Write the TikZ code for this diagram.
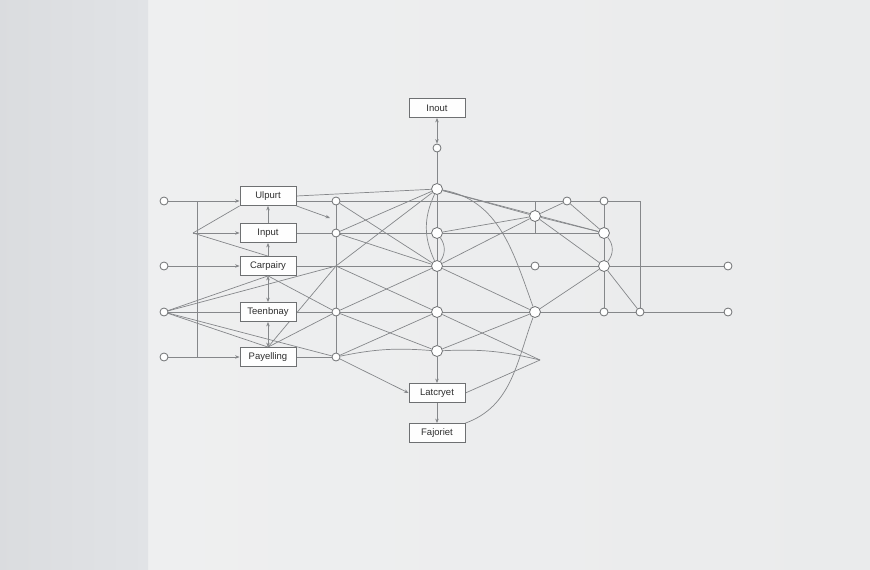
\documentclass[tikz,border=0pt]{standalone}
\usepackage{fontspec}
\setmainfont{Liberation Sans}
\usetikzlibrary{arrows.meta}
\definecolor{edgegray}{HTML}{85878A}
\definecolor{boxgray}{HTML}{6E7072}
\definecolor{inkgray}{HTML}{2E2E2E}
\definecolor{bgmain}{HTML}{EAEBEC}
\definecolor{bgstrip}{HTML}{E1E3E6}
\pgfdeclarelayer{back}
\pgfdeclarelayer{edges}
\pgfsetlayers{back,edges,main}
\tikzset{
  blk/.style={draw=boxgray, fill=white!94!bgmain, line width=0.8pt, minimum width=56pt,
    minimum height=19pt, inner sep=1pt, font=\fontsize{9.5}{10}\selectfont, text=inkgray},
  dot/.style={circle, draw=boxgray, fill=white, line width=0.8pt, minimum size=8pt, inner sep=0pt},
  bdot/.style={dot, minimum size=11pt},
  tip/.style={-{Stealth[length=4.5pt,width=3.5pt]}},
  twotip/.style={{Stealth[length=4.5pt,width=3.5pt]}-{Stealth[length=4.5pt,width=3.5pt]}}
}
\begin{document}
\begin{tikzpicture}[x=1pt,y=-1pt]
      \useasboundingbox (0,0) rectangle (870,570);
      \begin{pgfonlayer}{back}
        \shade[left color=bgmain!80!white, right color=bgmain] (148,0) rectangle (870,570);
        \shade[left color=bgstrip!97!black, right color=bgstrip] (0,0) rectangle (148,570);
      \end{pgfonlayer}
      \draw
        (437,108) node[blk] (bIn){Inout}
        (268,196) node[blk] (bU){Ulpurt}
        (268,233) node[blk] (bI){Input}
        (268,266) node[blk] (bC){Carpairy}
        (268,312) node[blk] (bT){Teenbnay}
        (268,357) node[blk] (bP){Payelling}
        (437,393) node[blk] (bL){Latcryet}
        (437,433) node[blk] (bF){Fajoriet};
      \draw
        (164,201) node[dot] (l1){}
        (164,266) node[dot] (l3){}
        (164,312) node[dot] (l4){}
        (164,357) node[dot] (l5){}
        (336,201) node[dot] (a1){}
        (336,233) node[dot] (a2){}
        (336,312) node[dot] (a4){}
        (336,357) node[dot] (a5){}
        (437,148) node[dot] (m0){}
        (437,189) node[bdot] (m1){}
        (437,233) node[bdot] (m2){}
        (437,266) node[bdot] (m3){}
        (437,312) node[bdot] (m4){}
        (437,351) node[bdot] (m5){}
        (535,216) node[bdot] (r1){}
        (535,266) node[dot] (r3){}
        (535,312) node[bdot] (r4){}
        (567,201) node[dot] (s1){}
        (604,201) node[dot] (t1){}
        (604,233) node[bdot] (t2){}
        (604,266) node[bdot] (t3){}
        (604,312) node[dot] (t4){}
        (640,312) node[dot] (u4){}
        (728,266) node[dot] (e3){}
        (728,312) node[dot] (e4){};
      \coordinate (j) at (193,233);
      \coordinate (k1) at (197,201);
      \coordinate (k5) at (197,357);
      \coordinate (w1) at (336,266);
      \coordinate (tipA) at (330,218);
      \coordinate (tipB) at (540,360);
      \coordinate (q1) at (640,201);
      \coordinate (q2) at (535,201);
      \coordinate (q3) at (535,233);
      \begin{pgfonlayer}{edges}
      \begin{scope}[draw=edgegray, line width=0.7pt]
        % left inputs
        \draw (l1) -- (k1);
        \draw[tip] (k1) -- (bU.west |- k1);
        \draw (k1) -- (k5);
        \draw (l5) -- (k5);
        \draw[tip] (k5) -- (bP.west);
        \draw[tip] (l3) -- (bC.west);
        \draw[tip] (j) -- (bI.west);
        \draw (j) -- (bU.south west);
        \draw (j) -- (bC.north);
        \draw (l4) -- (bT.west);
        \draw (l4) -- (bC.south);
        \draw (l4) -- (w1);
        \draw (l4) -- (bP.north);
        \draw (l4) -- (a5);
        \draw (bP.north) -- (w1);
        \draw (bC.south) -- (a4);
        \draw (bP.north) -- (a4);
        % left column
        \draw[tip] (bI) -- (bU);
        \draw[tip] (bC) -- (bI);
        \draw[twotip] (bT) -- (bC);
        \draw[twotip] (bP) -- (bT);
        \draw[tip] (bU.south east) -- (tipA);
        \draw (bU.east) -- (m1);
        \draw (bU.east |- a1) -- (a1);
        \draw (bI) -- (a2);
        \draw (bC) -- (w1);
        \draw (bT) -- (a4);
        \draw (bP) -- (a5);
        \draw (a1) -- (a5);
        % middle
        \draw[twotip] (bIn) -- (m0);
        \draw (m0) -- (m1);
        \draw (m1) -- (m5);
        \draw (m1) to[bend right=25] (m3);
        \draw (m2) to[bend left=35] (m3);
        \draw (a1) -- (q1);
        \draw (a2) -- (m2) -- (t2);
        \draw (w1) -- (e3);
        \draw (a4) -- (e4);
        \draw (a1) -- (m3);
        \draw (a2) -- (m1);
        \draw (a2) -- (m3);
        \draw (w1) -- (m1);
        \draw (a4) -- (m3);
        \draw (a4) -- (m5);
        \draw (a5) -- (m4);
        \draw (a5) to[bend left=8] (m5);
        \draw[tip] (a5) -- (bL.west);
        \draw (m3) -- (r4);
        \draw (m4) -- (tipB);
        \draw (m5) to[bend left=8] (tipB);
        \draw (m5) -- (r4);
        \draw (m4) -- (w1);
        \draw[tip] (m5) -- (bL);
        \draw[tip] (bL) -- (bF);
        \draw (bL.east) -- (tipB);
        \draw (m1) to[out=-10, in=110] (r4);
        \draw (bF.north east) to[out=20, in=-110] (r4);
        % right part
        \draw (m1) -- (r1);
        \draw (m1) -- (t2);
        \draw (m2) -- (r1);
        \draw (m3) -- (r1);
        \draw (q2) -- (q3);
        \draw (r1) -- (s1);
        \draw (r1) -- (t2);
        \draw (r1) -- (t3);
        \draw (s1) -- (t2);
        \draw (q1) -- (u4);
        \draw (t1) -- (t4);
        \draw (t2) to[bend left=40] (t3);
        \draw (t3) -- (u4);
        \draw (t3) -- (r4);
      \end{scope}
      \end{pgfonlayer}
    \end{tikzpicture}
\end{document}
